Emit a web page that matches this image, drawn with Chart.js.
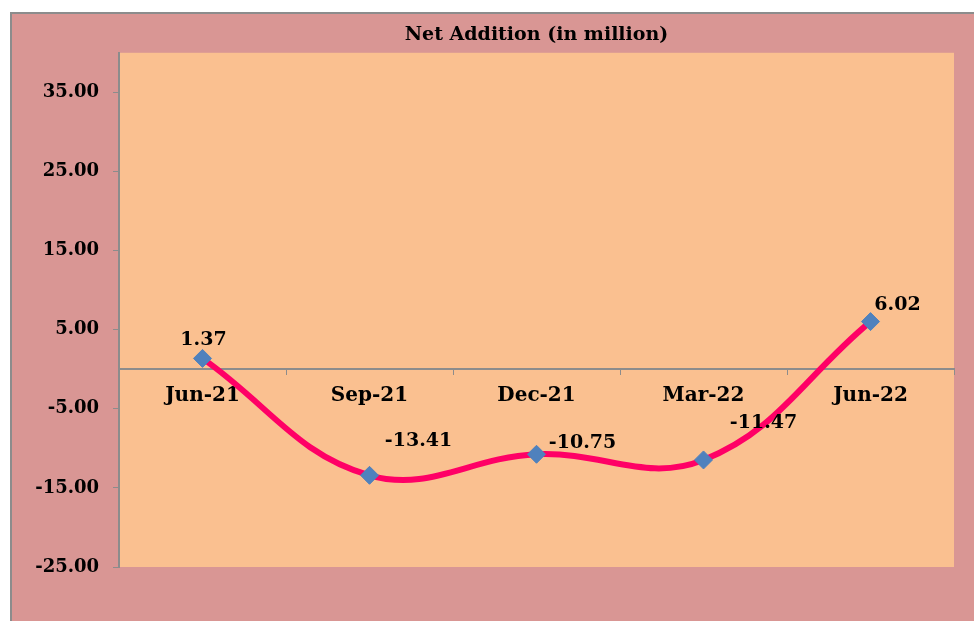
<!DOCTYPE html>
<html>
<head>
<meta charset="utf-8">
<title>Net Addition (in million)</title>
<script src="https://cdn.jsdelivr.net/npm/chart.js@4.4.1/dist/chart.umd.min.js"></script>
<style>
    html, body { margin: 0; padding: 0; background: #ffffff; overflow: hidden; }
    #frame {
        position: absolute; left: 10px; top: 12px; right: 0; bottom: 0;
        background: #d99694;
        border-left: 2px solid #8c8c8c;
        border-top: 2px solid #8c8c8c;
    }
    #wrap { position: absolute; left: 0; top: 0; width: 974px; height: 621px; }
</style>
</head>
<body>
<div id="frame"></div>
<div id="wrap"><canvas id="netChart" width="974" height="621"></canvas></div>
<script>
// data
const quarters = ['Jun-21', 'Sep-21', 'Dec-21', 'Mar-22', 'Jun-22'];
const netAddition = [1.37, -13.41, -10.75, -11.47, 6.02];
const yTicks = [-25, -15, -5, 5, 15, 25, 35];

const serif = '"DejaVu Serif", "Liberation Serif", serif';

// plot area fill
const plotBackground = {
    id: 'plotBackground',
    beforeDraw(chart) {
        const { ctx, chartArea: a } = chart;
        ctx.save();
        ctx.fillStyle = '#fac090';
        ctx.fillRect(a.left, a.top, a.right - a.left, a.bottom - a.top);
        ctx.restore();
    }
};

// value labels, placed by hand like in the original
const valueLabels = {
    id: 'valueLabels',
    afterDatasetsDraw(chart, args, opts) {
        const ctx = chart.ctx;
        const meta = chart.getDatasetMeta(0);
        ctx.save();
        ctx.font = 'bold 19px ' + serif;
        ctx.fillStyle = '#000000';
        ctx.textAlign = 'center';
        ctx.textBaseline = 'middle';
        meta.data.forEach((pt, i) => {
            const off = opts.offsets[i] || [0, -20];
            ctx.fillText(netAddition[i].toFixed(2), pt.x + off[0], pt.y + off[1]);
        });
        ctx.restore();
    }
};

new Chart(document.getElementById('netChart'), {
    type: 'line',
    data: {
        labels: quarters,
        datasets: [{
            data: netAddition,
            borderColor: '#ff0066',
            borderWidth: 6,
            tension: 0.4,
            fill: false,
            pointStyle: 'rectRot',
            pointRadius: 9,
            pointHoverRadius: 9,
            pointBackgroundColor: '#4f81bd',
            pointBorderColor: '#4f81bd',
            pointBorderWidth: 1
        }]
    },
    options: {
        responsive: false,
        animation: false,
        events: [],
        layout: { padding: { left: 0, right: 20, top: 0, bottom: 54 } },
        plugins: {
            legend: { display: false },
            tooltip: { enabled: false },
            title: {
                display: true,
                text: 'Net Addition (in million)',
                fullSize: false,
                color: '#000000',
                font: { family: serif, size: 19, weight: 'bold', lineHeight: 1.2 },
                padding: { top: 24, bottom: 6 }
            },
            valueLabels: {
                offsets: [[1, -18], [49, -34], [46, -11], [60, -37], [27, -17]]
            }
        },
        scales: {
            x: {
                type: 'category',
                position: { y: 0 },
                offset: true,
                grid: {
                    offset: true,
                    drawOnChartArea: false,
                    drawTicks: true,
                    tickLength: 5,
                    color: '#8c8c8c'
                },
                border: { display: true, color: '#8c8c8c', width: 2 },
                ticks: {
                    color: '#000000',
                    padding: 10,
                    maxRotation: 0,
                    font: { family: serif, size: 20, weight: 'bold' }
                },
                afterFit(scale) { scale.height = 0; }
            },
            y: {
                min: -25,
                max: 40,
                grid: {
                    drawOnChartArea: false,
                    drawTicks: true,
                    tickLength: 6,
                    color: '#8c8c8c'
                },
                border: { display: true, color: '#8c8c8c', width: 2 },
                ticks: {
                    color: '#000000',
                    padding: 14,
                    font: { family: serif, size: 18, weight: 'bold' },
                    callback: (v) => Number(v).toFixed(2)
                },
                afterBuildTicks(scale) {
                    scale.ticks = yTicks.map(v => ({ value: v }));
                },
                afterFit(scale) { scale.width = 119; }
            }
        }
    },
    plugins: [plotBackground, valueLabels]
});
</script>
</body>
</html>
